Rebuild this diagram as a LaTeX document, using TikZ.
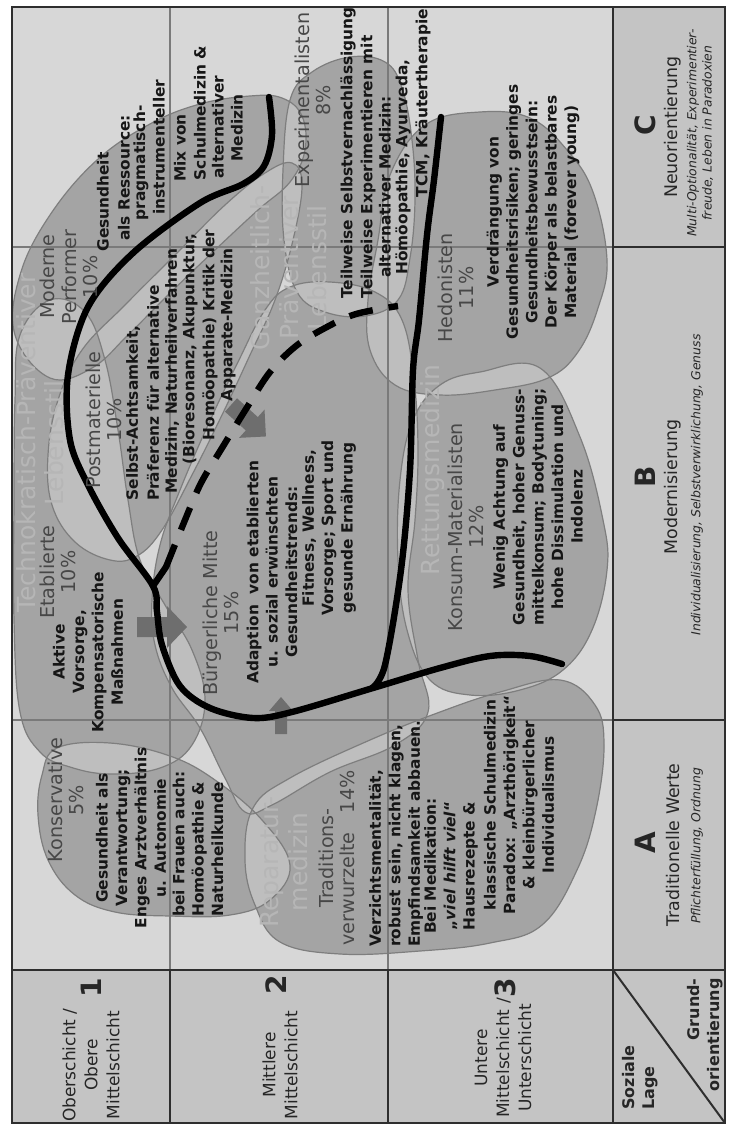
\documentclass[tikz,border=0pt]{standalone}
\usepackage{fontspec}
\setmainfont{DejaVu Sans}[ItalicFont={DejaVu Sans Oblique},BoldFont={DejaVu Sans Bold},BoldItalicFont={DejaVu Sans Bold Oblique}]
\definecolor{bodybg}{HTML}{D7D7D7}
\definecolor{headbg}{HTML}{C4C4C4}
\definecolor{shapec}{HTML}{A4A4A4}
\definecolor{lensc}{HTML}{BEBEBE}
\definecolor{outc}{HTML}{7E7E7E}
\definecolor{gridc}{HTML}{7A7A7A}
\definecolor{framec}{HTML}{2E2E2E}
\definecolor{bigc}{HTML}{B6B6B6}
\definecolor{milc}{HTML}{474747}
\definecolor{descc}{HTML}{161616}
\definecolor{arrc}{HTML}{6E6E6E}
\def\shK{plot[smooth cycle,tension=0.65] coordinates {(57,748) (110,743) (170,756) (215,780) (262,820) (290,865) (270,900) (230,915) (170,916) (115,912) (75,895) (48,860) (38,815) (42,775)}}
\def\shE{plot[smooth cycle,tension=0.65] coordinates {(40,752) (20,712) (14,620) (14,500) (15,400) (20,335) (50,300) (85,312) (105,360) (118,430) (128,500) (140,560) (165,605) (192,650) (205,700) (192,745) (160,768) (110,774) (70,767)}}
\def\shP{plot[smooth cycle,tension=0.65] coordinates {(110,560) (75,542) (52,505) (48,455) (58,400) (82,350) (125,305) (175,255) (225,205) (265,173) (292,163) (302,185) (293,240) (275,300) (250,355) (222,415) (192,475) (162,530) (137,556)}}
\def\shMP{plot[smooth cycle,tension=0.65] coordinates {(15,335) (20,275) (50,215) (97,160) (150,124) (200,104) (250,96) (282,98) (302,116) (305,150) (290,182) (258,210) (215,250) (168,295) (128,335) (92,368) (50,378)}}
\def\shX{plot[smooth cycle,tension=0.65] coordinates {(290,100) (312,72) (350,57) (385,62) (402,88) (412,140) (415,200) (410,258) (398,300) (365,316) (325,312) (297,292) (284,240) (283,170)}}
\def\shH{plot[smooth cycle,tension=0.65] coordinates {(480,112) (530,118) (567,150) (593,192) (607,260) (598,308) (578,352) (548,378) (495,390) (440,395) (395,385) (370,350) (368,300) (378,240) (390,175) (425,125)}}
\def\shKM{plot[smooth cycle,tension=0.65] coordinates {(480,372) (540,368) (580,437) (603,520) (607,570) (592,630) (563,670) (520,690) (470,695) (430,680) (407,630) (398,560) (400,480) (413,420) (440,385)}}
\def\shBM{plot[smooth cycle,tension=0.65] coordinates {(152,600) (160,545) (180,490) (208,425) (238,362) (265,310) (290,287) (330,282) (375,292) (402,320) (414,380) (418,450) (415,520) (408,590) (418,660) (428,712) (395,745) (330,772) (272,805) (245,812) (225,778) (200,728) (172,688) (155,645)}}
\def\shTV{plot[smooth cycle,tension=0.65] coordinates {(245,860) (253,808) (290,778) (370,740) (440,712) (500,692) (560,680) (595,705) (604,745) (596,810) (577,870) (542,925) (490,943) (420,951) (340,954) (280,942) (255,905)}}
\begin{document}
\begin{tikzpicture}[x=0.5pt,y=-0.5pt,
  big/.style={rotate=90,inner sep=0pt,align=center,text=bigc,font=\fontsize{12.5}{14.2}\selectfont},
  mil/.style={rotate=90,inner sep=0pt,align=center,text=milc,font=\fontsize{9.6}{10.8}\selectfont},
  desc/.style={rotate=90,inner sep=0pt,align=center,text=descc,font=\bfseries\fontsize{7.7}{9.7}\selectfont},
  head/.style={rotate=90,inner sep=0pt,align=center,text=black!85,font=\fontsize{8.5}{11}\selectfont},
  headnum/.style={rotate=90,inner sep=0pt,text=black!85,font=\bfseries\fontsize{14}{14}\selectfont},
  headsub/.style={rotate=90,inner sep=0pt,align=center,text=black!85,font=\itshape\fontsize{6.2}{7.6}\selectfont},
  corner/.style={rotate=90,inner sep=0pt,text=black!85,font=\bfseries\fontsize{8}{10}\selectfont},
  zone/.style={line width=3.2pt,black,line cap=round},
  zonedash/.style={line width=3.2pt,black,line cap=butt,dash pattern=on 12pt off 8pt},
  gridline/.style={gridc,line width=0.7pt},
  frameline/.style={framec,line width=1pt},
  arrowfill/.style={fill=arrc},
  milieu/.style={draw=outc,line width=0.6pt}
]
\useasboundingbox (0,0) rectangle (728,1129);
\fill[white] (0,0) rectangle (728,1129);
\fill[bodybg] (12,7) rectangle (613,970);
\fill[headbg] (613,7) rectangle (725,1123);
\fill[headbg] (12,970) rectangle (613,1123);
\begin{scope}
\clip (12,7) rectangle (613,970);
\fill[lensc] \shK; \fill[lensc] \shE; \fill[lensc] \shP; \fill[lensc] \shMP; \fill[lensc] \shX;
\fill[lensc] \shH; \fill[lensc] \shKM; \fill[lensc] \shBM; \fill[lensc] \shTV;
\fill[shapec,even odd rule] \shK \shE \shP \shMP \shX \shH \shKM \shBM \shTV;
\draw[milieu] \shK; \draw[milieu] \shE; \draw[milieu] \shP; \draw[milieu] \shMP; \draw[milieu] \shX;
\draw[milieu] \shH; \draw[milieu] \shKM; \draw[milieu] \shBM; \draw[milieu] \shTV;
\end{scope}
% grid inside body
\draw[gridline] (170,7) -- (170,970);
\draw[gridline] (388,7) -- (388,970);
\draw[gridline] (12,247) -- (613,247);
\draw[gridline] (12,720) -- (613,720);
% header lines and frame
\draw[frameline] (613,7) -- (613,1123);
\draw[frameline] (12,970) -- (725,970);
\draw[frameline] (170,970) -- (170,1123);
\draw[frameline] (388,970) -- (388,1123);
\draw[frameline] (613,247) -- (725,247);
\draw[frameline] (613,720) -- (725,720);
\draw[frameline] (613,970) -- (725,1123);
\draw[frameline] (12,7) rectangle (725,1123);
% big zone labels
\node[big] (tpl) at (40,443) {Technokratisch-Präventiver\\Lebensstil};
\node[big] (gpl) at (289,268) {Ganzheitlich-\\Präventiver\\Lebensstil};
\node[big] (rep) at (284,862) {Reparatur-\\medizin};
\node[big] (ret) at (433,470) {Rettungsmedizin};
% block arrows
\fill[arrowfill,shift={(137,627)}] (0,-10) -- (30,-10) -- (30,-21) -- (50,0) -- (30,21) -- (30,10) -- (0,10) -- cycle;
\fill[arrowfill,shift={(281,734)},rotate=90] (0,-6) -- (23,-6) -- (23,-12) -- (37,0) -- (23,12) -- (23,6) -- (0,6) -- cycle;
\fill[arrowfill,shift={(231,405)},rotate=-42] (0,-9) -- (28,-9) -- (28,-19) -- (47,0) -- (28,19) -- (28,9) -- (0,9) -- cycle;
% zone curves
\draw[zone] plot[smooth,tension=0.55] coordinates {(269,97) (272,135) (264,166) (243,184) (200,203) (133,253) (88,307) (68,375) (70,440) (88,485) (118,538) (153,586) (157,612) (162,645) (180,686) (210,708) (253,718) (292,712) (373,688) (440,668) (490,656) (530,656) (562,664)};
\draw[zone] (153,586) -- (166,567);
\draw[zonedash] plot[smooth,tension=0.55] coordinates {(166,567) (185,520) (201,483) (222,448) (246,409) (270,372) (296,346) (325,328) (356,314) (398,306)};
\draw[zone] plot[smooth,tension=0.55] coordinates {(441,117) (434,180) (427,235) (419,320) (413,370) (410,470) (401,570) (385,665) (372,688)};
% milieu labels
\node[mil] (mk) at (66,800) {Konservative\\5\%};
\node[mil] (me) at (58,572) {Etablierte\\10\%};
\node[mil] (mp) at (104,420) {Postmaterielle\\10\%};
\node[mil] (mmp) at (69,277) {Moderne\\Performer\\10\%};
\node[mil] (mbm) at (221,613) {Bürgerliche Mitte\\15\%};
\node[mil] (mx) at (313,100) {Experimentalisten\\8\%};
\node[mil] (mh) at (456,288) {Hedonisten\\11\%};
\node[mil] (mkm) at (466,527) {Konsum-Materialisten\\12\%};
\node[mil] (mtv) at (337,858) {Traditions-\\verwurzelte\hspace{1em}14\%};
% descriptions
\node[desc] (dk1) at (131,838) {Gesundheit als\\Verantwortung;\\Enges Arztverhältnis\\u. Autonomie};
\node[desc,align=left,anchor=west] (dk2) at (198,917) {bei Frauen auch:\\Homöopathie \&\\Naturheilkunde};
\node[desc] (de) at (88,652) {Aktive\\Vorsorge,\\Kompensatorische\\Maßnahmen};
\node[desc] (dbm1) at (272,572) {Adaption~ von etablierten\\u. sozial erwünschten\\Gesundheitstrends:};
\node[desc] (dbm2) at (329,528) {Fitness, Wellness,\\Vorsorge; Sport und\\gesunde Ernährung};
\node[desc] (dp1) at (133,413) {Selbst-Achtsamkeit,};
\node[desc] (dp2) at (153,393) {Präferenz für alternative};
\node[desc] (dp3) at (172,371) {Medizin, Naturheilverfahren};
\node[desc] (dp4) at (190,349) {(Bioresonanz, Akupunktur,};
\node[desc] (dp5) at (210,335) {Homöopathie) Kritik der};
\node[desc] (dp6) at (228,325) {Apparate-Medizin};
\node[desc] (dmp1) at (103,202) {Gesundheit};
\node[desc] (dmp2) at (124,178) {als Ressource:};
\node[desc] (dmp3) at (141,163) {pragmatisch-};
\node[desc] (dmp4) at (159,147) {instrumenteller};
\node[desc] (dmx1) at (180,148) {Mix von};
\node[desc] (dmx2) at (200,113) {Schulmedizin \&};
\node[desc] (dmx3) at (218,127) {alternativer};
\node[desc] (dmx4) at (237,128) {Medizin};
\node[desc] (dx1) at (348,153) {Teilweise Selbstvernachlässigung};
\node[desc] (dx2) at (368,167) {Teilweise Experimentieren mit};
\node[desc] (dx3) at (385,187) {alternativer Medizin:};
\node[desc] (dx4) at (403,167) {Hömöopathie, Ayurveda,};
\node[desc] (dx5) at (423,103) {TCM, Kräutertherapie};
\node[desc] (dh) at (533,212) {Verdrängung von\\Gesundheitsrisiken; geringes\\Gesundheitsbewusstsein:\\Der Körper als belastbares\\Material (forever young)};
\node[desc] (dkm) at (538,507) {Wenig Achtung auf\\Gesundheit, hoher Genuss-\\mittelkonsum; Bodytuning;\\hohe Dissimulation und\\Indolenz};
\node[desc,align=left,anchor=west] (dtv1) at (396,947) {Verzichtsmentalität,\\robust sein, nicht klagen,\\Empfindsamkeit abbauen.};
\node[desc] (dtv2) at (451,866) {Bei Medikation:\\„\textit{viel hilft viel}“\\Hausrezepte \&};
\node[desc] (dtv3) at (519,805) {klassische Schulmedizin\\Paradox: „Arzthörigkeit“\\\& kleinbürgerlicher\\Individualismus};
% column headers
\node[headnum] (hc) at (645,125) {C};
\node[head,font=\fontsize{8.7}{11}\selectfont] (hc1) at (673,127) {Neuorientierung};
\node[headsub] (hc2) at (700,133) {Multi-Optionalität, Experimentier-\\freude, Leben in Paradoxien};
\node[headnum] (hb) at (645,477) {B};
\node[head,font=\fontsize{8.7}{11}\selectfont] (hb1) at (673,487) {Modernisierung};
\node[headsub] (hb2) at (697,485) {Individualisierung, Selbstverwirklichung, Genuss};
\node[headnum] (ha) at (645,843) {A};
\node[head,font=\fontsize{8.7}{11}\selectfont] (ha1) at (673,845) {Traditionelle Werte};
\node[headsub] (ha2) at (697,846) {Pflichterfüllung, Ordnung};
% row headers
\node[head] (r1) at (91,1065) {Oberschicht /\\Obere\\Mittelschicht};
\node[headnum] (r1n) at (91,988) {1};
\node[head] (r2) at (280,1065) {Mittlere\\Mittelschicht};
\node[headnum] (r2n) at (276,985) {2};
\node[head] (r3) at (503,1058) {Untere\\Mittelschicht /\\Unterschicht};
\node[headnum] (r3n) at (505,988) {3};
% corner
\node[corner,align=left,anchor=west] (cs) at (640,1110) {Soziale\\Lage};
\node[corner,align=right,anchor=east] (cg) at (705,978) {Grund-\\orientierung};
\end{tikzpicture}
\end{document}
